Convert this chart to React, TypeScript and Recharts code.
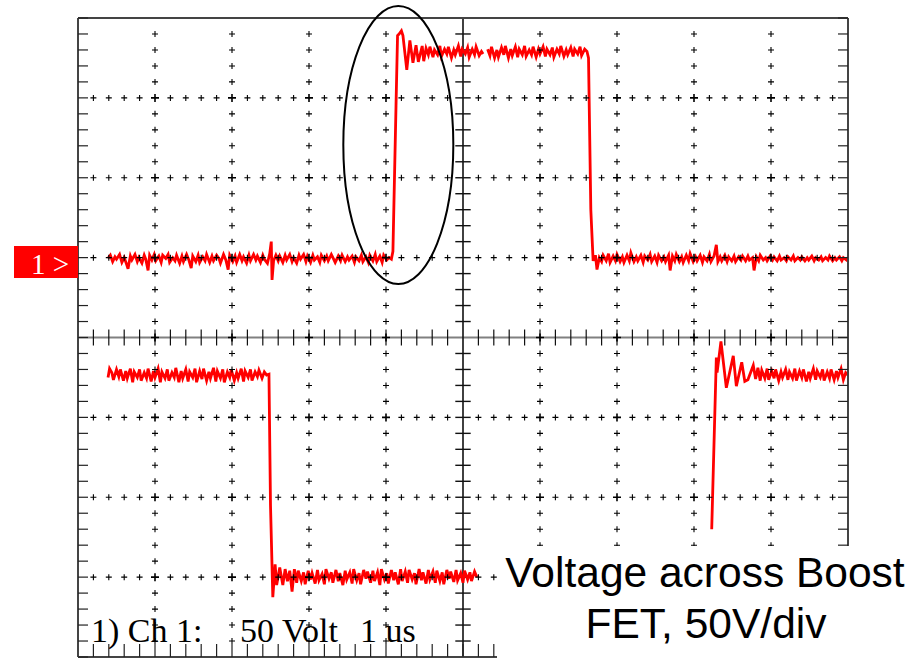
import {
    ComposedChart,
    Line,
    ReferenceDot,
    ReferenceLine,
    Scatter,
    XAxis,
    YAxis,
} from "recharts";

// screen units: x = time (us, 1 us/div), y = divisions from screen centre (50 V/div)
const SUB = 5;
const minorT = Array.from({ length: 10 * SUB + 1 }, (_, i) => +(i / SUB).toFixed(2));
const minorV = Array.from({ length: 8 * SUB + 1 }, (_, i) => +(-4 + i / SUB).toFixed(2));
const majorT = [1, 2, 3, 4, 6, 7, 8, 9];
const majorV = [-3, -2, -1, 1, 2, 3];

// upper sweep: low, rising edge with ringing, high, falling edge, low
const upperTrace: [number, number | null][] = [
    [0.39, 0.99], [0.42, 1.03], [0.45, 0.95], [0.48, 1.01], [0.5, 0.98], [0.54, 1.04], [0.57, 0.94], [0.6, 1.0],
    [0.63, 0.92], [0.65, 0.86], [0.68, 1.02], [0.7, 0.97], [0.74, 1.04], [0.77, 0.95], [0.79, 1.0], [0.83, 0.93],
    [0.86, 1.03], [0.88, 0.98], [0.91, 0.84], [0.93, 1.03], [0.96, 0.97], [0.99, 1.04], [1.01, 0.96], [1.05, 1.02],
    [1.08, 0.94], [1.1, 1.03], [1.14, 0.99], [1.17, 1.04], [1.19, 0.94], [1.23, 1.0], [1.26, 0.96], [1.28, 1.03],
    [1.32, 0.93], [1.35, 1.02], [1.37, 0.95], [1.41, 1.04], [1.44, 0.97], [1.47, 0.87], [1.49, 1.02], [1.53, 0.95],
    [1.56, 1.03], [1.58, 0.94], [1.62, 1.01], [1.65, 0.96], [1.67, 1.04], [1.71, 0.94], [1.74, 1.02], [1.76, 0.96],
    [1.8, 1.03], [1.83, 0.99], [1.85, 0.93], [1.89, 1.04], [1.92, 0.97], [1.95, 0.85], [1.97, 1.03], [2.01, 0.95],
    [2.04, 1.02], [2.06, 0.94], [2.1, 1.04], [2.13, 0.96], [2.15, 1.01], [2.19, 0.93], [2.22, 1.03], [2.24, 0.96],
    [2.28, 1.04], [2.31, 0.97], [2.33, 1.02], [2.37, 0.94], [2.4, 1.03], [2.42, 0.98], [2.46, 0.93], [2.49, 1.05],
    [2.51, 1.2], [2.52, 0.72], [2.54, 0.96], [2.57, 1.03], [2.6, 0.96], [2.62, 1.02], [2.66, 0.94], [2.69, 1.03],
    [2.71, 0.97], [2.75, 1.04], [2.78, 0.95], [2.8, 1.0], [2.84, 0.93], [2.87, 1.03], [2.89, 0.98], [2.93, 1.04],
    [2.96, 0.95], [2.98, 1.02], [3.02, 0.94], [3.05, 1.03], [3.07, 0.97], [3.11, 1.01], [3.14, 0.94], [3.16, 1.03],
    [3.2, 0.96], [3.23, 1.02], [3.25, 0.96], [3.29, 1.04], [3.32, 0.98], [3.34, 0.94], [3.38, 1.02], [3.41, 0.96],
    [3.43, 1.03], [3.47, 0.95], [3.5, 1.01], [3.52, 0.97], [3.56, 1.02], [3.59, 0.94], [3.61, 1.01], [3.65, 0.96],
    [3.68, 1.03], [3.7, 0.95], [3.74, 1.01], [3.77, 0.94], [3.79, 1.03], [3.83, 0.96], [3.86, 1.04], [3.88, 0.95],
    [3.92, 1.02], [3.95, 0.94], [3.97, 1.03], [4.01, 0.97], [4.04, 1.0], [4.07, 0.98], [4.09, 1.08], [4.13, 2.9],
    [4.15, 3.78], [4.17, 3.8], [4.2, 3.84], [4.22, 3.78], [4.27, 3.35], [4.31, 3.72], [4.35, 3.44], [4.39, 3.66],
    [4.42, 3.45], [4.47, 3.65], [4.49, 3.46], [4.52, 3.62], [4.55, 3.54], [4.57, 3.64], [4.61, 3.51], [4.63, 3.6],
    [4.67, 3.54], [4.7, 3.65], [4.72, 3.52], [4.76, 3.61], [4.79, 3.55], [4.81, 3.64], [4.85, 3.5], [4.88, 3.6],
    [4.9, 3.54], [4.94, 3.65], [4.97, 3.52], [4.99, 3.61], [5.03, 3.55], [5.06, 3.63], [5.08, 3.51], [5.12, 3.61],
    [5.15, 3.54], [5.17, 3.64], [5.21, 3.53], [5.24, 3.58], [5.26, 3.55], [5.29, null], [5.32, 3.61], [5.35, 3.53],
    [5.37, 3.64], [5.41, 3.5], [5.44, 3.6], [5.46, 3.51], [5.5, 3.63], [5.53, 3.54], [5.55, 3.65], [5.59, 3.5],
    [5.62, 3.61], [5.64, 3.53], [5.68, 3.64], [5.71, 3.51], [5.73, 3.61], [5.77, 3.54], [5.8, 3.65], [5.82, 3.52],
    [5.86, 3.6], [5.89, 3.54], [5.91, 3.64], [5.95, 3.51], [5.98, 3.61], [6.0, 3.55], [6.04, 3.64], [6.07, 3.52],
    [6.09, 3.61], [6.13, 3.54], [6.16, 3.63], [6.18, 3.51], [6.22, 3.61], [6.25, 3.55], [6.27, 3.65], [6.31, 3.52],
    [6.34, 3.6], [6.36, 3.54], [6.4, 3.63], [6.43, 3.52], [6.45, 3.61], [6.49, 3.55], [6.52, 3.64], [6.54, 3.53],
    [6.58, 3.61], [6.61, 3.58], [6.63, 3.5], [6.66, 1.6], [6.69, 0.96], [6.72, 1.03], [6.74, 0.85], [6.77, 1.0],
    [6.8, 0.95], [6.82, 1.03], [6.86, 0.96], [6.89, 1.05], [6.91, 0.94], [6.95, 1.02], [6.98, 0.96], [7.0, 1.04],
    [7.04, 0.95], [7.07, 1.01], [7.09, 0.94], [7.13, 1.03], [7.16, 0.96], [7.18, 1.06], [7.22, 0.95], [7.25, 1.01],
    [7.27, 0.96], [7.31, 1.03], [7.34, 0.94], [7.36, 1.02], [7.4, 0.97], [7.43, 1.04], [7.45, 0.95], [7.49, 1.02],
    [7.52, 0.94], [7.54, 1.03], [7.58, 0.96], [7.61, 1.01], [7.63, 0.95], [7.67, 1.03], [7.69, 0.84], [7.72, 1.02],
    [7.75, 0.96], [7.77, 1.04], [7.81, 0.95], [7.84, 1.01], [7.86, 0.94], [7.9, 1.03], [7.93, 0.96], [7.95, 1.05],
    [7.99, 0.95], [8.02, 1.01], [8.04, 0.96], [8.08, 1.03], [8.11, 0.94], [8.13, 1.01], [8.17, 0.96], [8.2, 1.04],
    [8.22, 0.95], [8.26, 1.02], [8.29, 1.16], [8.31, 0.95], [8.34, 1.01], [8.36, 0.96], [8.4, 1.03], [8.43, 0.95],
    [8.45, 1.01], [8.49, 0.96], [8.52, 1.02], [8.54, 0.95], [8.58, 1.01], [8.61, 0.97], [8.63, 1.02], [8.67, 0.96],
    [8.7, 1.02], [8.72, 0.97], [8.76, 1.0], [8.78, 0.84], [8.81, 1.01], [8.84, 0.96], [8.86, 1.03], [8.9, 0.97],
    [8.93, 1.0], [8.95, 0.96], [8.99, 1.02], [9.02, 0.97], [9.04, 1.01], [9.08, 0.96], [9.11, 1.02], [9.13, 0.97],
    [9.17, 1.0], [9.2, 0.96], [9.22, 1.01], [9.26, 0.97], [9.29, 1.02], [9.31, 0.96], [9.35, 1.0], [9.38, 0.97],
    [9.4, 1.01], [9.44, 0.96], [9.47, 1.0], [9.49, 0.97], [9.53, 1.02], [9.56, 0.96], [9.58, 1.0], [9.62, 0.97],
    [9.65, 1.01], [9.67, 0.96], [9.71, 1.0], [9.74, 0.97], [9.76, 1.02], [9.8, 0.96], [9.83, 1.0], [9.85, 0.97],
    [9.89, 1.01], [9.92, 0.96], [9.94, 1.0], [9.98, 0.97], [10.0, 1.0],
];

// lower sweep, left part: high then falling edge to low
const lowerTraceA: [number, number][] = [
    [0.39, -0.5], [0.41, -0.39], [0.44, -0.44], [0.46, -0.53], [0.5, -0.4], [0.53, -0.49], [0.55, -0.4], [0.59, -0.54],
    [0.62, -0.42], [0.64, -0.51], [0.68, -0.39], [0.71, -0.56], [0.73, -0.43], [0.77, -0.5], [0.8, -0.4], [0.82, -0.54],
    [0.86, -0.44], [0.89, -0.51], [0.91, -0.39], [0.95, -0.55], [0.98, -0.42], [1.0, -0.5], [1.04, -0.39], [1.07, -0.56],
    [1.09, -0.43], [1.13, -0.51], [1.16, -0.4], [1.18, -0.54], [1.22, -0.44], [1.25, -0.5], [1.27, -0.38], [1.31, -0.56],
    [1.34, -0.42], [1.36, -0.51], [1.4, -0.4], [1.43, -0.55], [1.45, -0.43], [1.49, -0.5], [1.52, -0.39], [1.54, -0.56],
    [1.58, -0.42], [1.61, -0.52], [1.63, -0.39], [1.67, -0.54], [1.7, -0.43], [1.72, -0.51], [1.76, -0.38], [1.79, -0.55],
    [1.81, -0.42], [1.85, -0.51], [1.88, -0.4], [1.9, -0.56], [1.94, -0.43], [1.97, -0.5], [1.99, -0.4], [2.03, -0.54],
    [2.06, -0.44], [2.08, -0.51], [2.12, -0.39], [2.15, -0.55], [2.17, -0.42], [2.21, -0.5], [2.24, -0.4], [2.26, -0.54],
    [2.3, -0.43], [2.33, -0.49], [2.35, -0.41], [2.39, -0.51], [2.42, -0.43], [2.45, -0.47], [2.48, -0.46], [2.5, -2.1],
    [2.53, -3.25], [2.56, -2.84], [2.58, -3.1], [2.62, -2.88], [2.66, -3.1], [2.69, -2.9], [2.72, -3.05], [2.75, -2.92],
    [2.78, -3.18], [2.81, -2.9], [2.84, -3.07], [2.86, -2.92], [2.9, -3.05], [2.93, -2.94], [2.95, -3.09], [2.99, -2.92],
    [3.02, -3.03], [3.04, -2.95], [3.08, -3.08], [3.11, -2.91], [3.13, -3.04], [3.17, -2.96], [3.2, -3.09], [3.22, -2.9],
    [3.26, -3.02], [3.29, -2.94], [3.31, -3.07], [3.35, -2.91], [3.38, -3.05], [3.4, -2.95], [3.44, -3.1], [3.47, -2.92],
    [3.49, -3.03], [3.53, -2.94], [3.56, -3.08], [3.58, -2.9], [3.62, -3.04], [3.65, -2.95], [3.67, -3.09], [3.71, -2.91],
    [3.74, -3.02], [3.76, -2.93], [3.8, -3.07], [3.83, -2.92], [3.85, -3.05], [3.89, -2.94], [3.92, -3.1], [3.94, -2.9],
    [3.98, -3.03], [4.01, -2.95], [4.03, -3.08], [4.07, -2.91], [4.1, -3.04], [4.12, -2.94], [4.16, -3.09], [4.19, -2.9],
    [4.21, -3.05], [4.25, -2.93], [4.28, -3.07], [4.3, -2.91], [4.34, -3.03], [4.37, -2.95], [4.39, -3.09], [4.43, -2.9],
    [4.46, -3.04], [4.48, -2.94], [4.52, -3.08], [4.55, -2.91], [4.57, -3.03], [4.61, -2.93], [4.64, -3.07], [4.66, -2.92],
    [4.7, -3.05], [4.73, -2.94], [4.75, -3.09], [4.79, -2.91], [4.82, -3.02], [4.84, -2.93], [4.88, -3.06], [4.91, -2.91],
    [4.93, -3.04], [4.97, -2.95], [5.0, -3.07], [5.02, -2.92], [5.06, -3.03], [5.09, -2.94], [5.11, -3.05], [5.15, -2.93],
    [5.18, -3.0],
];

// lower sweep, right part: rising edge with ringing then high
const lowerTraceB: [number, number][] = [
    [8.23, -2.4], [8.29, -0.25], [8.3, -0.44], [8.35, -0.05], [8.42, -0.63], [8.51, -0.23], [8.55, -0.61], [8.62, -0.31],
    [8.66, -0.55], [8.7, -0.53], [8.77, -0.35], [8.8, -0.52], [8.83, -0.38], [8.86, -0.54], [8.88, -0.41], [8.92, -0.51],
    [8.95, -0.39], [8.97, -0.53], [9.01, -0.42], [9.04, -0.51], [9.06, -0.4], [9.1, -0.54], [9.13, -0.43], [9.15, -0.5],
    [9.19, -0.4], [9.22, -0.53], [9.24, -0.43], [9.28, -0.51], [9.31, -0.39], [9.33, -0.54], [9.37, -0.42], [9.4, -0.5],
    [9.42, -0.4], [9.46, -0.55], [9.49, -0.43], [9.51, -0.51], [9.55, -0.39], [9.58, -0.53], [9.6, -0.42], [9.64, -0.5],
    [9.67, -0.4], [9.69, -0.54], [9.73, -0.43], [9.76, -0.51], [9.78, -0.4], [9.82, -0.53], [9.85, -0.42], [9.87, -0.5],
    [9.91, -0.39], [9.94, -0.53], [9.97, -0.44], [10.0, -0.47],
];

const toRows = (pts: [number, number | null][]) => pts.map(([t, v]) => ({ t, v }));

// graticule "+" marks along the major divisions
const innerT = minorT.filter((t) => t > 0 && t < 10 && t !== 5 && !majorT.includes(t));
const graticule = [
    ...majorT.flatMap((t) =>
        minorV.filter((v) => Math.abs(v) < 4).map((v) => ({ t, v, big: Number.isInteger(v) }))
    ),
    ...majorV.flatMap((v) => innerT.map((t) => ({ t, v, big: false }))),
];
// short ticks on the two centre axes (half length in divisions)
const centreTicksT = minorT.filter((t) => t > 0 && t < 10 && t !== 5);
const centreTicksV = minorV.filter((v) => Math.abs(v) < 4 && v !== 0);
const TICK_HALF_V = 0.1;
const TICK_HALF_T = 0.1;

const GraticuleMark = (props: any) => {
    const { cx, cy, payload } = props;
    const a = payload.big ? 4 : 3;
    return (
        <path
            d={`M${cx - a},${cy}H${cx + a}M${cx},${cy - a}V${cy + a}`}
            stroke="#000"
            strokeWidth={payload.big ? 1.6 : 1.1}
        />
    );
};
const Ellipse = (props: any) => (
    <ellipse cx={props.cx} cy={props.cy} rx={55} ry={139} fill="none" stroke="#000" strokeWidth={2} />
);
const NoLabel = () => <g />;

const frameLine = { stroke: "#444", strokeWidth: 2 };
const tickLine = { stroke: "#222", strokeWidth: 1.2 };
const TRACE = "#ff0000";

const App = () => {
    return (
        <div style={{ position: "absolute", left: 0, top: 0, width: 916, height: 659, background: "#fff" }}>
            <ComposedChart width={916} height={659} margin={{ top: 18, right: 68, bottom: 2, left: 78 }}>
                <XAxis
                    dataKey="t"
                    type="number"
                    domain={[0, 10]}
                    ticks={minorT}
                    interval={0}
                    orientation="bottom"
                    mirror
                    tick={NoLabel}
                    tickSize={13}
                    axisLine={frameLine}
                    tickLine={tickLine}
                    allowDataOverflow
                />
                <XAxis
                    xAxisId="top"
                    type="number"
                    domain={[0, 10]}
                    ticks={minorT}
                    interval={0}
                    orientation="top"
                    mirror
                    tick={NoLabel}
                    tickSize={10}
                    axisLine={frameLine}
                    tickLine={tickLine}
                    allowDataOverflow
                />
                <YAxis
                    dataKey="v"
                    type="number"
                    domain={[-4, 4]}
                    ticks={minorV}
                    interval={0}
                    orientation="left"
                    mirror
                    tick={NoLabel}
                    tickSize={10}
                    axisLine={frameLine}
                    tickLine={tickLine}
                    allowDataOverflow
                />
                <YAxis
                    yAxisId="right"
                    type="number"
                    domain={[-4, 4]}
                    ticks={minorV}
                    interval={0}
                    orientation="right"
                    mirror
                    tick={NoLabel}
                    tickSize={10}
                    axisLine={frameLine}
                    tickLine={tickLine}
                    allowDataOverflow
                />
                <ReferenceLine y={0} stroke="#808080" strokeWidth={2} />
                <ReferenceLine x={5} stroke="#111" strokeWidth={1.6} />
                {centreTicksT.map((t) => (
                    <ReferenceLine
                        key={`ct-${t}`}
                        segment={[
                            { x: t, y: -TICK_HALF_V },
                            { x: t, y: TICK_HALF_V },
                        ]}
                        stroke="#111"
                        strokeWidth={1.2}
                    />
                ))}
                {centreTicksV.map((v) => (
                    <ReferenceLine
                        key={`cv-${v}`}
                        segment={[
                            { x: 5 - TICK_HALF_T, y: v },
                            { x: 5 + TICK_HALF_T, y: v },
                        ]}
                        stroke="#111"
                        strokeWidth={1.4}
                    />
                ))}
                <Scatter data={graticule} dataKey="v" shape={GraticuleMark} isAnimationActive={false} />
                <Line
                    data={toRows(upperTrace)}
                    dataKey="v"
                    type="linear"
                    stroke={TRACE}
                    strokeWidth={2.8}
                    dot={false}
                    isAnimationActive={false}
                />
                <Line
                    data={toRows(lowerTraceA)}
                    dataKey="v"
                    type="linear"
                    stroke={TRACE}
                    strokeWidth={2.8}
                    dot={false}
                    isAnimationActive={false}
                />
                <Line
                    data={toRows(lowerTraceB)}
                    dataKey="v"
                    type="linear"
                    stroke={TRACE}
                    strokeWidth={2.8}
                    dot={false}
                    isAnimationActive={false}
                />
                <ReferenceDot x={4.16} y={2.41} r={0} shape={Ellipse} ifOverflow="visible" />
            </ComposedChart>
            <svg
                width={916}
                height={659}
                style={{ position: "absolute", left: 0, top: 0, pointerEvents: "none" }}
            >
                <rect x={14} y={246} width={64} height={32} fill="#ff0000" />
                <text x={31} y={274} fill="#fff" fontFamily="'Liberation Serif', serif" fontSize={29}>
                    1 &gt;
                </text>
                <g fontFamily="'Liberation Serif', serif" fontSize={34} fill="#000">
                    <text x={91} y={642}>1) Ch 1:</text>
                    <text x={240} y={642}>50 Volt</text>
                    <text x={360} y={642}>1 us</text>
                </g>
                <rect x={497} y={546} width={419} height={113} fill="#fff" />
                <g fontFamily="'Liberation Sans', Arial, sans-serif" fontSize={42.5} fill="#000" textAnchor="middle">
                    <text x={705} y={587}>Voltage across Boost</text>
                    <text x={706} y={638}>FET, 50V/div</text>
                </g>
            </svg>
        </div>
    );
};

export default App;
